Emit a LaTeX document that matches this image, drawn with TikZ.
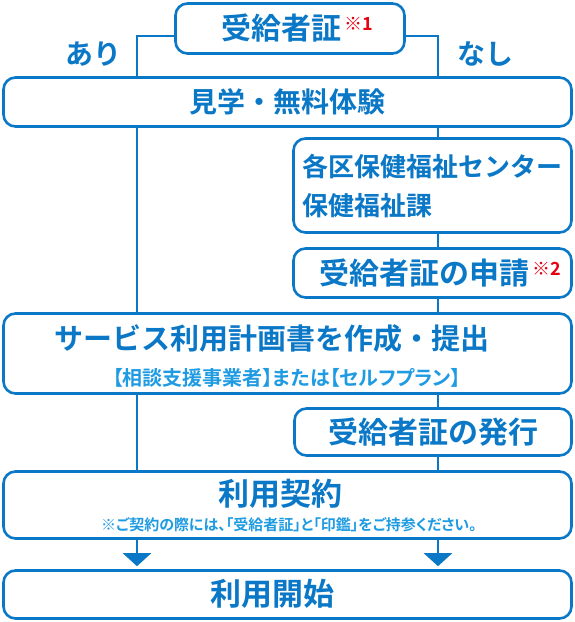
\documentclass[tikz,border=0pt]{standalone}
\usepackage{fontspec}
\setmainfont{Noto Sans CJK JP}[BoldFont={Noto Sans CJK JP Bold}]
\newfontfamily\jpprop{Noto Sans CJK JP}[BoldFont={Noto Sans CJK JP Bold},RawFeature=+palt]
\usepackage{tikz}
\usetikzlibrary{arrows.meta}
\definecolor{flowblue}{HTML}{0A78C6}
\definecolor{subblue}{HTML}{1E9BE2}
\definecolor{notered}{HTML}{E60012}
\newcommand{\kome}[1]{\hspace{3pt}\raisebox{9pt}{\fontsize{18}{18}\selectfont\color{notered}※#1}}

\begin{document}
\begin{tikzpicture}[x=1pt,y=-1pt,
  stepbox/.style={draw=flowblue,line width=2.6pt,rounded corners=12pt,fill=white,
    text=flowblue,font=\bfseries\fontsize{30}{32}\selectfont,inner sep=0pt},
  flow/.style={draw=flowblue,line width=2.6pt},
  tip/.style={-{Triangle[width=28pt,length=13pt]},shorten >=3pt}]
\useasboundingbox (0,0) rectangle (575,622);
\coordinate (L) at (137,0);
\coordinate (R) at (438,0);
\node[stepbox,minimum width=229pt,minimum height=50pt] (juk) at (290,28.5) {\hspace{14pt}受給者証\kome{1}};
\node[stepbox,minimum width=568pt,minimum height=49pt,font=\bfseries\fontsize{28}{30}\selectfont] (kengaku) at (287.5,102) {見学・無料体験};
\node[stepbox,minimum width=278pt,minimum height=94pt,align=left,font=\bfseries\fontsize{26}{39}\selectfont] (kakku) at (432.5,185.5) {各区保健福祉センター\\保健福祉課};
\node[stepbox,minimum width=278pt,minimum height=49pt] (shinsei) at (432.5,273) {\hspace{16pt}受給者証の申請\kome{2}};
\node[stepbox,minimum width=568pt,minimum height=80pt] (service) at (287.5,353.5) {};
\node[stepbox,minimum width=277pt,minimum height=47pt] (hakko) at (433,432) {受給者証の発行};
\node[stepbox,minimum width=568pt,minimum height=67pt] (keiyaku) at (287.5,505) {};
\node[stepbox,minimum width=568pt,minimum height=48pt] (kaishi) at (287.5,594.5) {};
\node[text=flowblue,font=\bfseries\fontsize{29}{30}\selectfont] (serviceT) at (272,339) {サービス利用計画書を作成・提出};
\node[text=subblue,font=\jpprop\bfseries\fontsize{20}{20}\selectfont] (serviceS) at (287,378) {【相談支援事業者】または【セルフプラン】};
\node[text=flowblue,font=\bfseries\fontsize{31}{33}\selectfont] (keiyakuT) at (280,494) {利用契約};
\node[text=subblue,font=\jpprop\bfseries\fontsize{15}{15}\selectfont] (keiyakuS) at (289,525) {※ご契約の際には、「受給者証」と「印鑑」をご持参ください。};
\node[text=flowblue,font=\bfseries\fontsize{31}{33}\selectfont] (kaishiT) at (272,594) {利用開始};
\node[text=flowblue,font=\bfseries\fontsize{28}{30}\selectfont] (ari) at (93,54) {あり};
\node[text=flowblue,font=\bfseries\fontsize{28}{30}\selectfont] (nashi) at (485,54) {なし};
\draw[flow] ([yshift=-7.5pt]juk.west) -| (kengaku.north -| L);
\draw[flow] ([yshift=-7.5pt]juk.east) -| (kengaku.north -| R);
\draw[flow] (kengaku.south -| L) -- (service.north -| L);
\draw[flow] (service.south -| L) -- (keiyaku.north -| L);
\draw[flow] (kengaku.south -| R) -- (kakku.north -| R);
\draw[flow] (kakku.south -| R) -- (shinsei.north -| R);
\draw[flow] (shinsei.south -| R) -- (service.north -| R);
\draw[flow] (service.south -| R) -- (hakko.north -| R);
\draw[flow] (hakko.south -| R) -- (keiyaku.north -| R);
\draw[flow,tip] (keiyaku.south -| L) -- (kaishi.north -| L);
\draw[flow,tip] (keiyaku.south -| R) -- (kaishi.north -| R);
\end{tikzpicture}
\end{document}
